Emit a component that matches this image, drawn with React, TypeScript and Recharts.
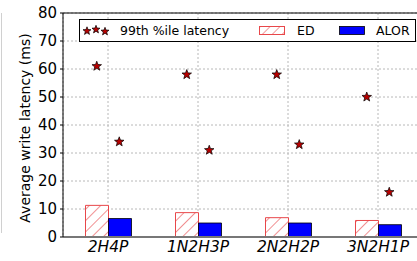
import React from "react";
import {
  ComposedChart,
  Bar,
  Scatter,
  XAxis,
  YAxis,
  CartesianGrid,
  Legend,
  ReferenceLine,
} from "recharts";

const categories = ["2H4P", "1N2H3P", "2N2H2P", "3N2H1P"];
const edAvg = [11.3, 8.7, 6.9, 5.9];
const alorAvg = [6.6, 5.0, 5.0, 4.4];
const edP99 = [61, 58, 58, 50];
const alorP99 = [34, 31, 33, 16];
const yTicks = [0, 10, 20, 30, 40, 50, 60, 70, 80];

const data = categories.map((name, i) => ({
  name,
  ed: edAvg[i],
  alor: alorAvg[i],
  edP99: edP99[i],
  alorP99: alorP99[i],
}));

const FONT = "DejaVu Sans, sans-serif";
const HATCH_RED = "#e8474a";
const STAR_RED = "#b80000";
// half of one bar's width (band 90px, two bars filling half of it)
const HALF_BAR = 11.25;

function starPoints(cx: number, cy: number, r: number) {
  const pts: string[] = [];
  for (let i = 0; i < 10; i++) {
    const rad = i % 2 === 0 ? r : r * 0.42;
    const a = -Math.PI / 2 + (i * Math.PI) / 5;
    pts.push(`${cx + rad * Math.cos(a)},${cy + rad * Math.sin(a)}`);
  }
  return pts.join(" ");
}

const Star = ({ cx, cy, r = 5 }: { cx: number; cy: number; r?: number }) => (
  <polygon points={starPoints(cx, cy, r)} fill={STAR_RED} stroke="#000" strokeWidth={0.7} />
);

const YLabel = ({ viewBox }: any) => {
  const x = 25;
  const y = viewBox ? viewBox.y + viewBox.height / 2 + 3 : 128;
  return (
    <text
      x={x}
      y={y}
      transform={`rotate(-90 ${x} ${y})`}
      textAnchor="middle"
      dominantBaseline="central"
      fontSize={14}
      fontFamily={FONT}
      fill="#000"
    >
      Average write latency (ms)
    </text>
  );
};

const LegendBox = () => (
  <svg width={338} height={24} style={{ display: "block", fontFamily: FONT }}>
    <defs>
      <pattern id="hatchLeg" width="7" height="7" patternUnits="userSpaceOnUse" patternTransform="rotate(45)">
        <line x1="0" y1="0" x2="0" y2="7" stroke={HATCH_RED} strokeWidth={1.1} />
      </pattern>
    </defs>
    <rect x={0.5} y={0.5} width={336} height={22} fill="#fff" stroke="#000" strokeWidth={1} />
    <Star cx={8} cy={12} r={4.2} />
    <Star cx={17} cy={10.5} r={4.2} />
    <Star cx={26} cy={12.5} r={4.2} />
    <text x={41} y={16} fontSize={12.5} fill="#000">
      99th %ile latency
    </text>
    <rect x={180.5} y={7.5} width={25} height={8} fill="url(#hatchLeg)" stroke={HATCH_RED} strokeWidth={1} />
    <text x={218} y={16} fontSize={12.5} fill="#000">
      ED
    </text>
    <rect x={260.5} y={7.5} width={25} height={8} fill="#0000ff" stroke="#000" strokeWidth={0.8} />
    <text x={297} y={16} fontSize={12.5} fill="#000">
      ALOR
    </text>
  </svg>
);

export default function App() {
  return (
    <div
      style={{
        position: "absolute",
        left: 0,
        top: 0,
        width: 417,
        height: 261,
        overflow: "hidden",
        background: "#fff",
        fontFamily: FONT,
      }}
    >
      <div style={{ position: "absolute", left: 1, top: 13, width: 1, height: 220, background: "#d0d0d0" }} />
      <ComposedChart
        width={430}
        height={261}
        data={data}
        margin={{ top: 13, right: 7, bottom: 0, left: 0 }}
        barCategoryGap="25%"
        barGap={0}
      >
        <defs>
          <pattern id="hatchBar" width="8" height="8" patternUnits="userSpaceOnUse" patternTransform="rotate(45)">
            <rect x="0" y="0" width="8" height="8" fill="#fff" />
            <line x1="0" y1="0" x2="0" y2="8" stroke={HATCH_RED} strokeWidth={1.2} />
          </pattern>
        </defs>
        <CartesianGrid stroke="#b8b8b8" strokeDasharray="2 2" />
        <XAxis
          dataKey="name"
          height={24}
          tickLine={false}
          tickSize={0}
          tickMargin={4}
          axisLine={{ stroke: "#777", strokeWidth: 2 }}
          tick={{ fontSize: 15.5, fontStyle: "italic", fill: "#000", fontFamily: FONT }}
        />
        <YAxis
          width={63}
          domain={[0, 80]}
          ticks={yTicks}
          interval={0}
          tickSize={3}
          tickMargin={3}
          axisLine={{ stroke: "#000" }}
          tickLine={{ stroke: "#000" }}
          tick={{ fontSize: 15, fill: "#000", fontFamily: FONT }}
          label={<YLabel />}
        />
        <ReferenceLine y={80} stroke="#000" strokeWidth={1} />
        <Bar dataKey="ed" fill="url(#hatchBar)" stroke={HATCH_RED} strokeWidth={1} isAnimationActive={false} />
        <Bar dataKey="alor" fill="#0000ff" stroke="#000" strokeWidth={0.8} isAnimationActive={false} />
        <Scatter
          dataKey="edP99"
          isAnimationActive={false}
          shape={(p: any) => <Star cx={p.cx - HALF_BAR} cy={p.cy} />}
        />
        <Scatter
          dataKey="alorP99"
          isAnimationActive={false}
          shape={(p: any) => <Star cx={p.cx + HALF_BAR} cy={p.cy} />}
        />
        <Legend
          layout="horizontal"
          verticalAlign="middle"
          align="center"
          wrapperStyle={{ position: "absolute", left: 79, top: 19, width: 338, height: 24 }}
          content={() => <LegendBox />}
        />
      </ComposedChart>
    </div>
  );
}
